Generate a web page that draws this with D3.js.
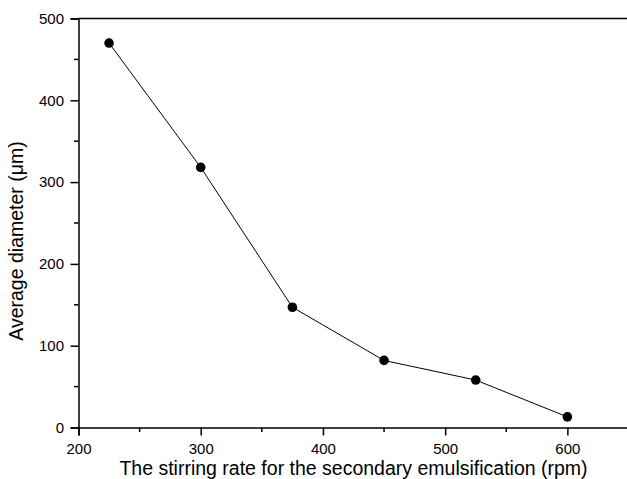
<!DOCTYPE html>
<html>
<head>
<meta charset="utf-8">
<script src="https://cdn.jsdelivr.net/npm/d3@7"></script>
<style>
  body { margin: 0; background: #fff; }
  svg { display: block; font-family: "Liberation Sans", Arial, sans-serif; }
</style>
</head>
<body>
<div id="chart"></div>
<script>
// stirring rate (rpm) vs. average diameter (um)
const rates = [225, 300, 375, 450, 525, 600]
const diameters = [470, 318, 147, 82, 58, 13]
const xTicks = [200, 300, 400, 500, 600]
const yTicks = [0, 100, 200, 300, 400, 500]

const width = 627
const height = 479
const margin = { top: 18.5, right: -1.5, bottom: 51.5, left: 78.5 }

const svg = d3.select("#chart")
    .append("svg")
    .attr("width", width)
    .attr("height", height)

const x = d3.scaleLinear()
    .domain([200, 650])
    .range([margin.left, width - margin.right])

const y = d3.scaleLinear()
    .domain([0, 500])
    .range([height - margin.bottom, margin.top])

// minor ticks every 50
const xMinor = d3.range(250, 650, 100)
const yMinor = d3.range(50, 500, 100)

// bottom axis
const xAxis = svg.append("g")
    .attr("transform", `translate(0,${y(0)})`)
    .call(d3.axisBottom(x).tickValues(xTicks).tickSizeOuter(0).tickSize(8).tickPadding(7.5))
xAxis.append("g").selectAll("line")
    .data(xMinor)
    .join("line")
    .attr("x1", d => x(d)).attr("x2", d => x(d))
    .attr("y1", 0).attr("y2", 4.5)
    .attr("stroke", "#000")
    .attr("stroke-width", 1.5)

// left axis
const yAxis = svg.append("g")
    .attr("transform", `translate(${x(200)},0)`)
    .call(d3.axisLeft(y).tickValues(yTicks).tickSizeOuter(0).tickSize(8).tickPadding(6.5))
yAxis.append("g").selectAll("line")
    .data(yMinor)
    .join("line")
    .attr("y1", d => y(d)).attr("y2", d => y(d))
    .attr("x1", 0).attr("x2", -4.5)
    .attr("stroke", "#000")
    .attr("stroke-width", 1.5)

svg.selectAll(".domain, .tick line")
    .attr("stroke", "#000")
    .attr("stroke-width", 1.5)
svg.selectAll(".tick text")
    .attr("fill", "#000")
    .style("font-size", "15px")
    .style("font-family", "Liberation Sans, Arial, sans-serif")

// top frame line
svg.append("line")
    .attr("x1", x(200)).attr("x2", width)
    .attr("y1", y(500)).attr("y2", y(500))
    .attr("stroke", "#000")
    .attr("stroke-width", 1.5)

// axis titles
svg.append("text")
    .attr("x", (x(200) + x(650)) / 2)
    .attr("y", 474.5)
    .attr("text-anchor", "middle")
    .style("font-size", "19.5px")
    .text("The stirring rate for the secondary emulsification (rpm)")

svg.append("text")
    .attr("transform", "translate(23,241) rotate(-90)")
    .attr("text-anchor", "middle")
    .style("font-size", "19.5px")
    .text("Average diameter (μm)")

const data = rates.map((r, i) => ({ rate: r, d: diameters[i] }))

const line = d3.line()
    .x(d => x(d.rate))
    .y(d => y(d.d))

svg.append("path")
    .datum(data)
    .attr("fill", "none")
    .attr("stroke", "#000")
    .attr("stroke-width", 1)
    .attr("d", line)

svg.append("g").selectAll("circle")
    .data(data)
    .join("circle")
    .attr("cx", d => x(d.rate))
    .attr("cy", d => y(d.d))
    .attr("r", 4.8)
    .attr("fill", "#000")
</script>
</body>
</html>
